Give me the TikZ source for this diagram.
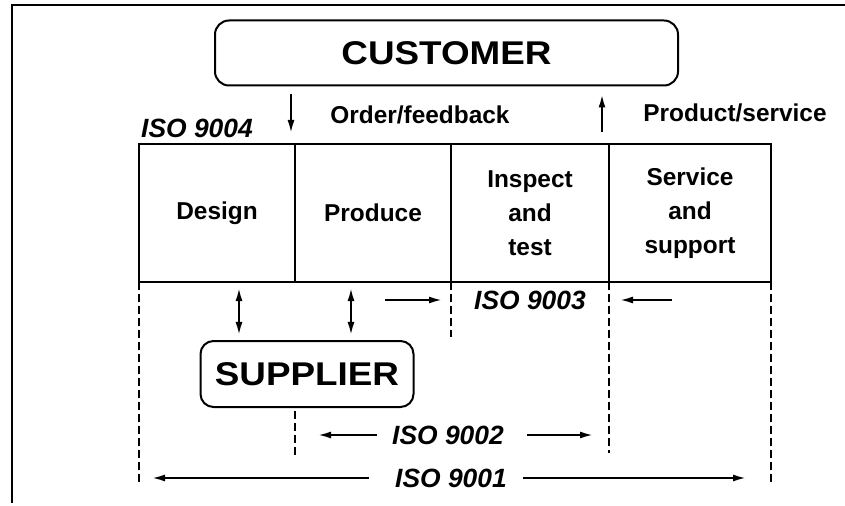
\documentclass[tikz,border=0pt]{standalone}
\usepackage{fontspec}
\setmainfont{Liberation Sans}
\newfontfamily\titlefont[FakeStretch=1.12]{Liberation Sans Bold}
\usetikzlibrary{arrows.meta,positioning}

\begin{document}
\begin{tikzpicture}[x=1bp, y=-1bp, every node/.style={font=\bfseries\fontsize{24.5}{34}\selectfont}]
\tikzset{party/.style={draw, line width=2bp, rounded corners=14bp,
  font=\titlefont\fontsize{33}{33}\selectfont},
  stage/.style={draw, line width=2bp, align=center, minimum height=138bp,
  inner sep=0pt, outer sep=0pt},
  iso/.style={font=\bfseries\itshape\fontsize{26.5}{26.5}\selectfont},
  flow/.style={-{Latex[length=13bp,width=7bp]}, line width=2bp},
  both/.style={{Latex[length=13bp,width=7bp]}-{Latex[length=13bp,width=7bp]}, line width=2bp},
  bound/.style={dash pattern=on 8bp off 4bp, line width=1.7bp}}
\useasboundingbox (0,0) rectangle (845,506);
% outer frame
\draw[line width=2bp] (845,5) -- (12,5) -- (12,503);

\node[party, minimum width=463bp, minimum height=65bp] (customer) at (446.5,53) {CUSTOMER};

% the four stages
\node[stage, minimum width=156bp] (design) at (217,213) {Design};
\node[stage, minimum width=156bp, right=0pt of design] (produce) {Produce};
\node[stage, minimum width=158bp, right=0pt of produce] (inspect) {Inspect\\and\\test};
\node[stage, minimum width=162bp, right=0pt of inspect] (service) {Service\\and\\support};

\node[party, minimum width=213bp, minimum height=66bp, rounded corners=13bp] (supplier) at (307,374) {SUPPLIER};

\node[iso] (iso9004) at (197,128) {ISO 9004};
\node (order) at (420,115) {Order/feedback};
\node (product) at (735,113) {Product/service};
\node[iso] (iso9003) at (530,300) {ISO 9003};
\node[iso] (iso9002) at (448,435) {ISO 9002};
\node[iso] (iso9001) at (451,478) {ISO 9001};

% customer flows
\draw[flow, shorten <=8bp, shorten >=11bp] ([xshift=-4bp]customer.south -| design.east) -- ([xshift=-4bp]design.north east);
\draw[flow, shorten <=12bp, shorten >=8bp] ([xshift=-7bp]inspect.north east) -- ([xshift=-7bp]customer.south -| inspect.east);

% supplier links
\foreach \dx in {-68,44}
  \draw[both, shorten <=6bp, shorten >=5bp] ([xshift=\dx bp]supplier.north |- design.south) -- ([xshift=\dx bp]supplier.north);

% scope limits
\draw[bound] (design.south west) -- ++(0,200);
\draw[bound] (inspect.south west) -- ++(0,55);
\draw[bound] (service.south west) -- ++(0,171);
\draw[bound] (service.south east) -- ++(0,200);
\draw[bound] (supplier.south -| design.east) ++(0,3) -- ++(0,48);

\draw[flow] (inspect.south west |- iso9003) ++(-66,0) -- ++(57,0);
\draw[flow] (service.south west |- iso9003) ++(63,0) -- ++(-52,0);
\draw[flow] (design.east |- iso9002) ++(82,0) -- ++(-59,0);
\draw[flow] (service.west |- iso9002) ++(-82,0) -- ++(66,0);
\draw[flow] (design.west |- iso9001) ++(230,0) -- ++(-217,0);
\draw[flow] (service.east |- iso9001) ++(-248,0) -- ++(223,0);
\end{tikzpicture}
\end{document}
